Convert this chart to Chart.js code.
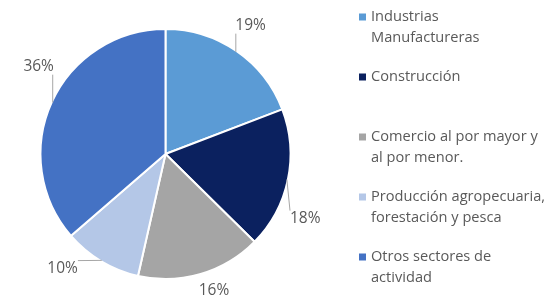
<!DOCTYPE html>
<html>
<head>
<meta charset="utf-8">
<script src="https://cdn.jsdelivr.net/npm/chart.js@4.4.1/dist/chart.umd.min.js"></script>
<style>
  html, body { margin: 0; padding: 0; background: #fff; }
  #wrap { width: 549px; height: 296px; position: relative; }
</style>
</head>
<body>
<div id="wrap"><canvas id="pie"></canvas></div>
<script>
// data
const sectors = [
    ['Industrias', 'Manufactureras'],
    ['Construcción'],
    ['Comercio al por mayor y', 'al por menor.'],
    ['Producción agropecuaria,', 'forestación y pesca'],
    ['Otros sectores de', 'actividad']
];
const shares = [19, 18, 16, 10, 36];
const sliceColors = ['#5B9BD5', '#0B215F', '#A5A5A5', '#B4C7E7', '#4472C4'];

// small angle nudges (deg) for the outside % labels, like Excel's best fit
const labelNudge = [-1, 13, -2, 11, 10];

const LEGEND_FONT = '14.6px "Open Sans", sans-serif';
const PCT_FONT = '15.5px "Open Sans", sans-serif';
const TEXT = '#595959';

// outside labels with leader lines
const pctLabels = {
    id: 'pctLabels',
    afterDatasetsDraw(chart) {
        const ctx = chart.ctx;
        const meta = chart.getDatasetMeta(0);
        ctx.save();
        ctx.font = PCT_FONT;
        ctx.textAlign = 'center';
        ctx.textBaseline = 'middle';
        meta.data.forEach((arc, i) => {
            const p = arc.getProps(['x', 'y', 'startAngle', 'endAngle', 'outerRadius']);
            const mid = (p.startAngle + p.endAngle) / 2;
            const a = mid + labelNudge[i] * Math.PI / 180;
            const d = p.outerRadius + 29;
            const lx = p.x + Math.cos(a) * d;
            // keep labels inside the canvas like Excel does
            const ly = Math.min(p.y + Math.sin(a) * d, chart.height - 5);
            const txt = shares[i] + '%';
            const w = ctx.measureText(txt).width, h = 16;
            // edge point at the slice's middle
            const ex = p.x + Math.cos(mid) * (p.outerRadius - 1);
            const ey = p.y + Math.sin(mid) * (p.outerRadius - 1);
            const ax = Math.min(Math.max(ex, lx - w / 2), lx + w / 2);
            const ay = Math.min(Math.max(ey, ly - h / 2), ly + h / 2);
            if (Math.hypot(ax - ex, ay - ey) > 12) {
                ctx.strokeStyle = '#A6A6A6';
                ctx.lineWidth = 1;
                ctx.beginPath();
                ctx.moveTo(ex, ey);
                ctx.lineTo(ax, ay);
                ctx.stroke();
            }
            ctx.fillStyle = TEXT;
            ctx.fillText(txt, lx, ly);
        });
        ctx.restore();
    }
};

// legend on the right, two-line entries
const sideLegend = {
    id: 'sideLegend',
    afterDraw(chart) {
        const ctx = chart.ctx;
        ctx.save();
        ctx.font = LEGEND_FONT;
        ctx.textBaseline = 'middle';
        ctx.textAlign = 'left';
        sectors.forEach((lines, i) => {
            const y0 = 17 + 60 * i;
            ctx.fillStyle = sliceColors[i];
            ctx.fillRect(359, y0 - 3.5, 7, 7);
            ctx.fillStyle = TEXT;
            lines.forEach((t, j) => ctx.fillText(t, 371, y0 + 21 * j));
        });
        ctx.restore();
    }
};

new Chart(document.getElementById('pie'), {
    type: 'pie',
    data: {
        labels: sectors.map(s => s.join(' ')),
        datasets: [{
            data: shares,
            backgroundColor: sliceColors,
            borderColor: '#ffffff',
            borderWidth: 2
        }]
    },
    options: {
        responsive: true,
        maintainAspectRatio: false,
        animation: false,
        layout: { padding: { left: 39, right: 257, top: 28, bottom: 16 } },
        plugins: {
            legend: { display: false },
            tooltip: { enabled: false }
        }
    },
    plugins: [pctLabels, sideLegend]
});
</script>
</body>
</html>
